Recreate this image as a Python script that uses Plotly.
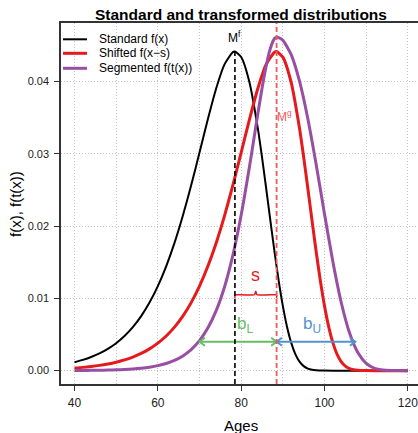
import numpy as np
import plotly.graph_objects as go

# ---- data -------------------------------------------------------------
# Standard density f(x)
black_ages = [40, 42, 44, 46, 48, 50, 52, 54, 56, 58, 60, 62, 64, 66, 68, 70, 72, 74, 76, 78, 78.5,
              80, 82, 84, 85, 86, 87, 88, 89, 90, 91, 92, 93, 94, 95, 96, 97, 98, 100, 104, 110, 120]
black_vals = [0.00117, 0.001485, 0.001881, 0.00238, 0.003009, 0.003799, 0.004787, 0.006018, 0.007541,
              0.009412, 0.011691, 0.014434, 0.017669, 0.021418, 0.025635, 0.030174, 0.034781, 0.039046,
              0.042377, 0.044065, 0.044146, 0.043386, 0.03987, 0.033527, 0.029547, 0.025227, 0.020786,
              0.016457, 0.012455, 0.008958, 0.006084, 0.003874, 0.002294, 0.001252, 0.000621, 0.000278,
              0.000111, 0.0000385, 0.000003, 0, 0, 0]

# Shifted density f(x - s)
red_ages = [40, 42, 44, 46, 48, 50, 52, 54, 56, 58, 60, 62, 64, 66, 68, 70, 72, 74, 76, 78, 80, 82, 84, 86,
            88, 88.5, 90, 92, 94, 95, 96, 97, 98, 99, 100, 101, 102, 103, 104, 105, 106, 107, 108, 110, 114, 120]
red_vals = [0.000355, 0.000451, 0.000573, 0.000727, 0.000923, 0.00117, 0.001485, 0.001881, 0.00238,
            0.003009, 0.003799, 0.004787, 0.006018, 0.007541, 0.009412, 0.011691, 0.014434, 0.017669,
            0.021418, 0.025635, 0.030174, 0.034781, 0.039046, 0.042377, 0.044065, 0.044146, 0.043386,
            0.03987, 0.033527, 0.029547, 0.025227, 0.020786, 0.016457, 0.012455, 0.008958, 0.006084,
            0.003874, 0.002294, 0.001252, 0.000621, 0.000278, 0.000111, 0.0000385, 0.000003, 0, 0]

# Segmented density f(t(x))
purple_ages = [40, 42, 44, 46, 48, 50, 52, 54, 56, 58, 60, 62, 64, 66, 68, 70, 72, 74, 76, 78, 80, 82,
               83, 84, 85, 86, 87, 88, 88.5, 89, 90, 92, 94, 96, 98, 100, 102, 104, 106, 108, 110, 112,
               114, 116, 118, 120]
purple_vals = [0.0000181, 0.000026, 0.0000374, 0.0000539, 0.0000776, 0.000112, 0.000161, 0.000232,
               0.000333, 0.000479, 0.000689, 0.00099, 0.001421, 0.002036, 0.002912, 0.00415, 0.005884,
               0.008293, 0.011579, 0.015946, 0.021525, 0.028229, 0.031866, 0.035539, 0.039053, 0.04217,
               0.044581, 0.045947, 0.046132, 0.046087, 0.045706, 0.043717, 0.040049, 0.034852, 0.028516,
               0.021681, 0.015091, 0.009461, 0.005234, 0.002492, 0.000992, 0.000319, 0.0000796,
               0.0000147, 0.000002, 0]

# extents of the lower / upper segments at the reference density level
seg_level = 0.004
lower_end = 70.0
upper_end = 107.4

x_ticks = [40, 60, 80, 100, 120]
y_ticks = [0.00, 0.01, 0.02, 0.03, 0.04]

# ---- styling ----------------------------------------------------------
W, H = 418, 433
ML, MR, MT, MB = 61, 0, 23, 49
X_RANGE = [36.76, 122.44]
Y_RANGE = [-0.00185, 0.0481]
FONT = "Liberation Sans, Arial, sans-serif"

C_BLACK = "#000000"
C_RED = "#E41A1C"
C_PURPLE = "#984EA3"
C_RED_SOFT = "#EE5A5E"
C_GREEN = "#67BC66"
C_BLUE = "#5393CC"
C_GRID = "#c4c4c4"

plot_w = W - ML - MR
plot_h = H - MT - MB


def px_to_paper_x(px):
    return (px - ML) / plot_w


def py_to_paper_y(py):
    return (H - MB - py) / plot_h


# modes of the standard and shifted densities
mode_f = black_ages[int(np.argmax(black_vals))]
peak_f = max(black_vals)
mode_g = red_ages[int(np.argmax(red_vals))]

fig = go.Figure()

for ages, vals, col, lw, name in [
    (black_ages, black_vals, C_BLACK, 2, "Standard f(x)"),
    (red_ages, red_vals, C_RED, 3, "Shifted f(x\u2212s)"),
    (purple_ages, purple_vals, C_PURPLE, 3, "Segmented f(t(x))"),
]:
    fig.add_trace(go.Scatter(x=ages, y=vals, mode="lines", name=name,
                             line=dict(color=col, width=lw, shape="spline", smoothing=0.6),
                             showlegend=False, hoverinfo="skip"))

shapes = []
# modal age lines
shapes.append(dict(type="line", xref="x", yref="y", x0=mode_f, x1=mode_f, y0=Y_RANGE[0], y1=peak_f,
                   line=dict(color=C_BLACK, width=1.6, dash="5px,3px"), layer="above"))
shapes.append(dict(type="line", xref="x", yref="paper", x0=mode_g, x1=mode_g, y0=0, y1=1,
                   line=dict(color=C_RED_SOFT, width=1.8, dash="5px,3px"), layer="above"))

# brace spanning the shift s
by, bh = 0.0105, 0.0005
mid = (mode_f + mode_g) / 2
brace_x = [mode_f, mode_f, mode_f + 0.3, mid - 0.3, mid, mid + 0.3, mode_g - 0.3, mode_g, mode_g]
brace_y = [by - bh, by - 0.1 * bh, by, by, by + bh, by, by, by - 0.1 * bh, by - bh]
fig.add_trace(go.Scatter(x=brace_x, y=brace_y, mode="lines", showlegend=False, hoverinfo="skip",
                         line=dict(color=C_RED, width=1.5, shape="spline", smoothing=0.5)))


def double_arrow(x0, x1, y, col):
    adx, ady = 1.3, 0.00055
    fig.add_trace(go.Scatter(x=[x0, x1], y=[y, y], mode="lines", showlegend=False, hoverinfo="skip",
                             line=dict(color=col, width=2)))
    for xe, sgn in [(x0, 1), (x1, -1)]:
        fig.add_trace(go.Scatter(x=[xe + sgn * adx, xe, xe + sgn * adx], y=[y + ady, y, y - ady],
                                 mode="lines", showlegend=False, hoverinfo="skip",
                                 line=dict(color=col, width=2)))


double_arrow(lower_end, mode_g, seg_level, C_GREEN)
double_arrow(mode_g, upper_end, seg_level, C_BLUE)

annotations = [
    dict(text="M<sup>f</sup>", x=mode_f, y=0.0461, xref="x", yref="y", showarrow=False,
         font=dict(size=12, color=C_BLACK, family=FONT), xanchor="center", yanchor="middle"),
    dict(text="M<sup>g</sup>", x=mode_g, y=0.0352, xref="x", yref="y", showarrow=False,
         font=dict(size=12, color=C_RED_SOFT, family=FONT), xanchor="left", yanchor="middle", xshift=-2),
    dict(text="s", x=mid, y=0.0132, xref="x", yref="y", showarrow=False,
         font=dict(size=18, color=C_RED, family=FONT), xanchor="center", yanchor="middle"),
    dict(text="b<sub>L</sub>", x=81.0, y=0.0063, xref="x", yref="y", showarrow=False,
         font=dict(size=17, color=C_GREEN, family=FONT), xanchor="center", yanchor="middle"),
    dict(text="b<sub>U</sub>", x=97.0, y=0.0063, xref="x", yref="y", showarrow=False,
         font=dict(size=17, color=C_BLUE, family=FONT), xanchor="center", yanchor="middle"),
    # title and axis titles
    dict(text="<b>Standard and transformed distributions</b>", x=px_to_paper_x(241), y=py_to_paper_y(14),
         xref="paper", yref="paper", showarrow=False, font=dict(size=15.5, color="#000", family=FONT),
         xanchor="center", yanchor="middle"),
    dict(text="Ages", x=px_to_paper_x(241), y=py_to_paper_y(425), xref="paper", yref="paper",
         showarrow=False, font=dict(size=15, color="#000", family=FONT), xanchor="center", yanchor="middle"),
    dict(text="f(x), f(t(x))", x=px_to_paper_x(15), y=py_to_paper_y(204), xref="paper", yref="paper",
         showarrow=False, textangle=-90, font=dict(size=15, color="#000", family=FONT),
         xanchor="center", yanchor="middle"),
]

# legend drawn in the top-left corner of the panel
legend_items = [("Standard f(x)", C_BLACK, 2, 39.3), ("Shifted f(x\u2212s)", C_RED, 3, 53.3),
                ("Segmented f(t(x))", C_PURPLE, 3, 68.3)]
for label, col, lw, py in legend_items:
    shapes.append(dict(type="line", xref="paper", yref="paper", x0=px_to_paper_x(63), x1=px_to_paper_x(87),
                       y0=py_to_paper_y(py), y1=py_to_paper_y(py), line=dict(color=col, width=lw)))
    annotations.append(dict(text=label, x=px_to_paper_x(97), y=py_to_paper_y(py), xref="paper", yref="paper",
                            showarrow=False, xanchor="left", yanchor="middle",
                            font=dict(size=12, color="#000", family=FONT)))

grid = dict(showgrid=True, gridcolor=C_GRID, griddash="1px,2px", gridwidth=1)

fig.update_layout(
    width=W, height=H, margin=dict(l=ML, r=MR, t=MT, b=MB),
    paper_bgcolor="white", plot_bgcolor="white",
    shapes=shapes, annotations=annotations, showlegend=False,
    font=dict(family=FONT),
    xaxis=dict(range=X_RANGE, tickvals=x_ticks, ticks="outside", ticklen=5, tickcolor="#333",
               tickfont=dict(size=12, color="#222", family=FONT), showline=True, linecolor="#333",
               linewidth=1.5, mirror=True, zeroline=False, ticklabelstandoff=2, ticklabeloverflow="allow",
               minor=dict(dtick=10, tick0=40, showgrid=True, gridcolor=C_GRID, griddash="1px,2px", ticks=""),
               **grid),
    yaxis=dict(range=Y_RANGE, tickvals=y_ticks, tickformat=".2f", ticks="outside", ticklen=5,
               tickcolor="#333", tickfont=dict(size=11, color="#222", family=FONT), showline=True,
               linecolor="#333", linewidth=1.5, mirror=False, zeroline=False, ticklabelstandoff=3, **grid),
)

fig.write_html("out.html")
